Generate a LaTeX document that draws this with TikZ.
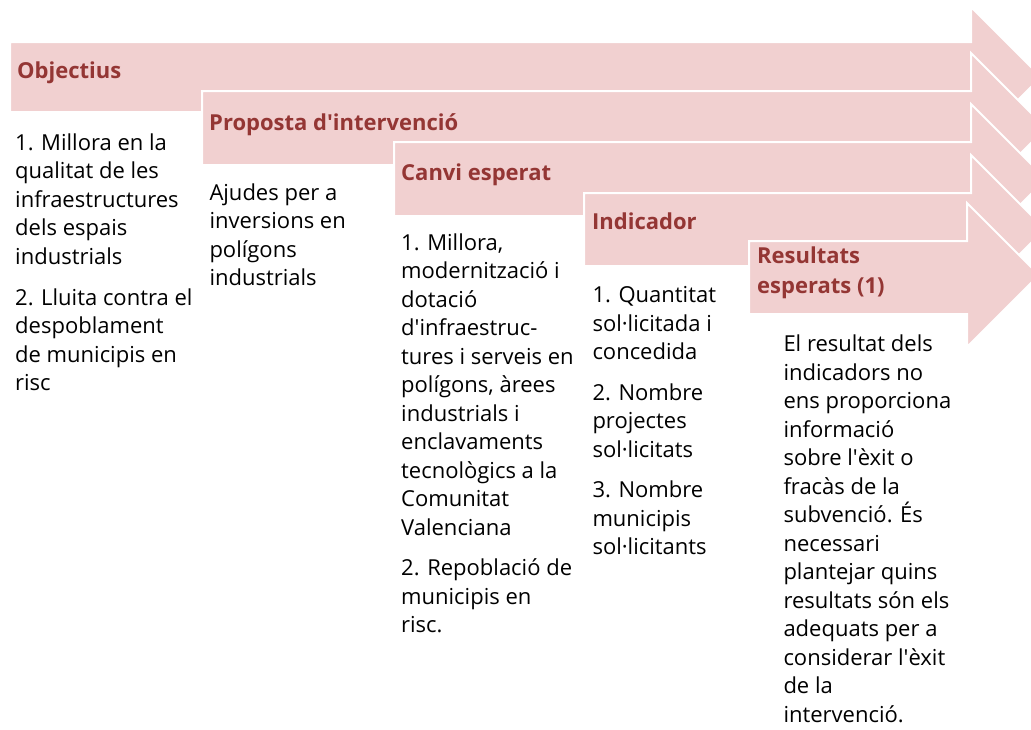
\documentclass[tikz,border=0pt]{standalone}
\usepackage{fontspec}
\setmainfont{Open Sans}
\font\aqbodyfont="Open Sans" at 22pt
\font\aqheadfont="Open Sans/B" at 22pt
\newcommand\aq{{\aqbodyfont\char39}}
\newcommand\aqh{{\aqheadfont\char39}}
\definecolor{arrowfill}{HTML}{F1D0D0}
\definecolor{headred}{HTML}{943634}
\tikzset{
  arrowshape/.style={fill=arrowfill, draw=white, line width=2pt, line join=miter},
  headtext/.style={anchor=north west, inner sep=0pt, align=left, text=headred, font=\fontsize{22}{30}\selectfont\bfseries},
  bodytext/.style={anchor=north west, inner sep=0pt, align=left, text=black, font=\fontsize{22}{28.5}\selectfont},
}
\begin{document}
\begin{tikzpicture}[x=1pt,y=-1pt]
\useasboundingbox (0,0) rectangle (1031,729);
% arrows
\draw[arrowshape] (10,42) -- (971,42) -- (971,7) -- (1041,77) -- (971,147) -- (971,112) -- (10,112) -- cycle;
\draw[arrowshape] (202,91) -- (971,91) -- (971,53) -- (1046,128) -- (971,203) -- (971,165) -- (202,165) -- cycle;
\draw[arrowshape] (394,142) -- (971,142) -- (971,104) -- (1046,179) -- (971,254) -- (971,216) -- (394,216) -- cycle;
\draw[arrowshape] (584,193) -- (971,193) -- (971,155) -- (1045,229) -- (971,303) -- (971,266) -- (584,266) -- cycle;
\draw[arrowshape] (749,241) -- (967,241) -- (967,203) -- (1039,275) -- (967,347) -- (967,314) -- (749,314) -- cycle;
% headers
\node[headtext] (h1) at (17,57) {\strut Objectius};
\node[headtext] (h2) at (209,109) {\strut Proposta d\aqh intervenció};
\node[headtext] (h3) at (401,159) {\strut Canvi esperat};
\node[headtext] (h4) at (592,208.3) {\strut Indicador};
\node[headtext] (h5) at (757,242.3) {\strut Resultats\\esperats (1)};
% bodies
\node[bodytext] (b1) at (15,130) {\strut 1. Millora en la\\qualitat de les\\infraestructures\\dels espais\\industrials\\[12.5pt]2. Lluita contra el\\despoblament\\de municipis en\\risc};
\node[bodytext] (b2) at (209.3,180) {\strut Ajudes per a\\inversions en\\polígons\\industrials};
\node[bodytext] (b3) at (401,230) {\strut 1. Millora,\\modernització i\\dotació\\d\aq infraestruc-\\tures i serveis en\\polígons, àrees\\industrials i\\enclavaments\\tecnològics a la\\Comunitat\\Valenciana\\[12pt]2. Repoblació de\\municipis en\\risc.};
\node[bodytext] (b4) at (592.3,282.7) {\strut 1. Quantitat\\sol·licitada i\\concedida\\[12pt]2. Nombre\\projectes\\sol·licitats\\[12pt]3. Nombre\\municipis\\sol·licitants};
\node[bodytext] (b5) at (783.3,331.7) {\strut El resultat dels\\indicadors no\\ens proporciona\\informació\\sobre l\aq èxit o\\fracàs de la\\subvenció. És\\necessari\\plantejar quins\\resultats són els\\adequats per a\\considerar l\aq èxit\\de la\\intervenció.};
\end{tikzpicture}
\end{document}
